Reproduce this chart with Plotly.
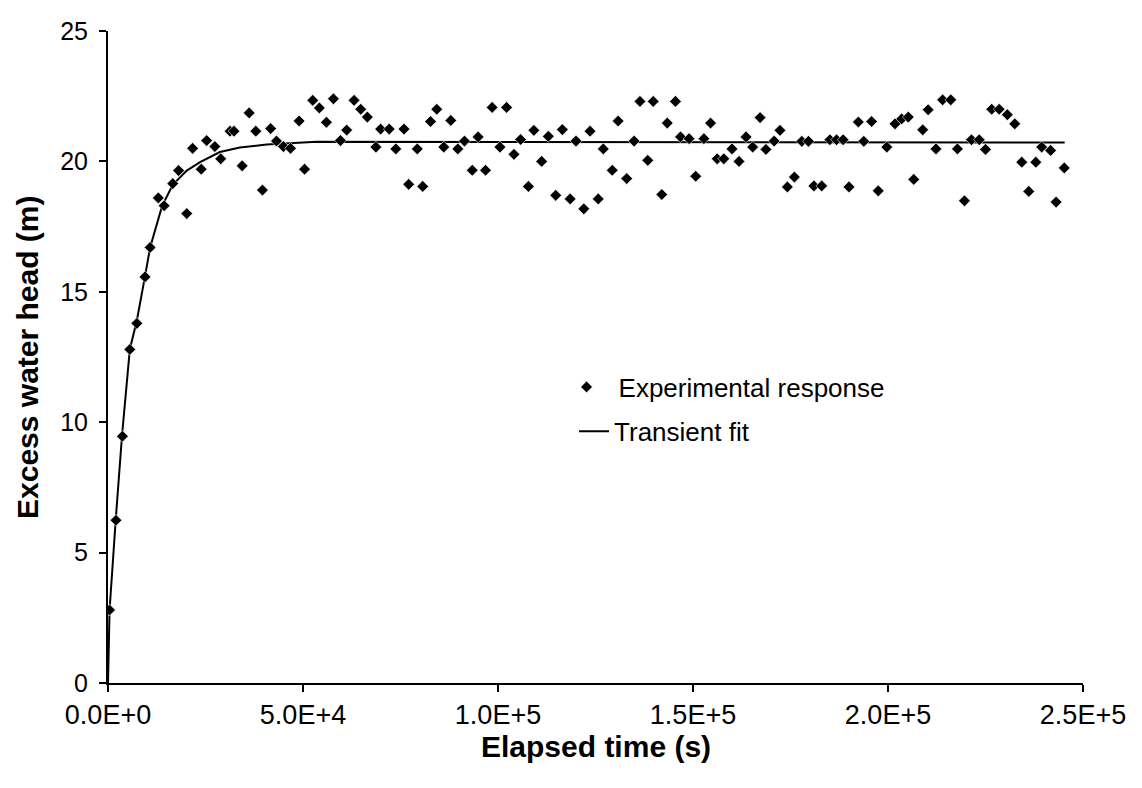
import plotly.graph_objects as go

# Experimental response (elapsed time in s, excess water head in m)
exp_time = [400, 2050, 3700, 5600, 7400, 9500, 10800, 12900, 14400, 16600, 18100, 20200,
            21700, 23900, 25300, 27400, 28900, 31300, 32300, 34400, 36200, 37900, 39600,
            41700, 43200, 45000, 46800, 49000, 50400, 52500, 54200, 56000, 57800, 59600,
            61200, 63100, 64800, 66500, 68700, 69900, 72100, 73800, 75900, 77100, 79300,
            80700, 82700, 84300, 86100, 87900, 89700, 91400, 93400, 94900, 96800, 98500,
            100500, 102200, 104100, 105800, 107800, 109200, 111200, 112900, 114800, 116500,
            118500, 120000, 122000, 123600, 125700, 127000, 129300, 130800, 133000, 134900,
            136400, 138400, 139800, 142000, 143400, 145500, 146800, 149000, 150700, 152800,
            154500, 156200, 157900, 160000, 161800, 163600, 165300, 167200, 168700, 170800,
            172300, 174200, 176000, 177900, 179600, 181000, 183000, 185100, 186800, 188500,
            190000, 192400, 193800, 195800, 197500, 199700, 201800, 203500, 205200, 206600,
            208900, 210300, 212300, 214000, 216100, 217800, 219600, 221400, 223400, 225000,
            226600, 228500, 230600, 232500, 234300, 236100, 237900, 239400, 241700, 243100,
            245200]
exp_head = [2.8, 6.24, 9.46, 12.79, 13.79, 15.57, 16.7, 18.6, 18.3, 19.15, 19.65, 18.0,
            20.5, 19.7, 20.8, 20.57, 20.1, 21.16, 21.16, 19.83, 21.86, 21.16, 18.9,
            21.26, 20.78, 20.57, 20.5, 21.55, 19.7, 22.34, 22.05, 21.5, 22.4, 20.8,
            21.2, 22.34, 22.0, 21.7, 20.55, 21.24, 21.24, 20.48, 21.24, 19.12, 20.48,
            19.04, 21.53, 22.0, 20.55, 21.57, 20.48, 20.78, 19.66, 20.94, 19.66, 22.07,
            20.55, 22.07, 20.27, 20.84, 19.04, 21.19, 20.0, 20.96, 18.7, 21.22,
            18.56, 20.78, 18.18, 21.16, 18.56, 20.48, 19.66, 21.55, 19.34, 20.78,
            22.3, 20.04, 22.3, 18.73, 21.47, 22.3, 20.94, 20.87, 19.43, 20.87,
            21.47, 20.1, 20.1, 20.48, 20.0, 20.94, 20.55, 21.68, 20.46, 20.78,
            21.19, 19.02, 19.4, 20.77, 20.77, 19.06, 19.06, 20.83, 20.83, 20.83,
            19.02, 21.51, 20.77, 21.53, 18.87, 20.55, 21.44, 21.63, 21.7, 19.31,
            21.21, 21.98, 20.48, 22.36, 22.36, 20.48, 18.49, 20.83, 20.83, 20.46,
            22.0, 22.0, 21.79, 21.44, 19.97, 18.85, 19.97, 20.55, 20.42, 18.44,
            19.75]

# Transient fit curve
fit_time = [0, 400, 2000, 3600, 5600, 7400, 9500, 10800, 13900, 16600, 20200, 23600,
            28700, 33800, 40700, 47000, 53500, 245300]
fit_head = [0, 2.8, 6.3, 9.5, 12.8, 13.9, 15.6, 16.7, 18.3, 19.1, 19.65, 19.97,
            20.36, 20.53, 20.65, 20.7, 20.75, 20.72]

x_tick_vals = [0, 50000, 100000, 150000, 200000, 250000]
x_tick_text = ["0.0E+0", "5.0E+4", "1.0E+5", "1.5E+5", "2.0E+5", "2.5E+5"]
y_tick_vals = [0, 5, 10, 15, 20, 25]
y_tick_text = ["0", "5", "10", "15", "20", "25"]

FONT = "Liberation Sans, Arial, sans-serif"

fig = go.Figure()
fig.add_trace(go.Scatter(
    x=fit_time, y=fit_head, mode="lines", name="Transient fit",
    line=dict(color="black", width=2), legend="legend2", showlegend=True))
fig.add_trace(go.Scatter(
    x=exp_time, y=exp_head, mode="markers", name="Experimental response",
    marker=dict(symbol="diamond", size=9, color="black",
                line=dict(color="white", width=0.6)),
    legend="legend", showlegend=True))

fig.update_layout(
    width=1142, height=788,
    margin=dict(l=108, r=59, t=31, b=105),
    paper_bgcolor="white", plot_bgcolor="white",
    showlegend=True,
    font=dict(family=FONT, color="black", size=22),
    legend=dict(x=0.458, y=0.49, xanchor="left", yanchor="top", itemwidth=54,
                bgcolor="rgba(0,0,0,0)", font=dict(size=26, family=FONT)),
    legend2=dict(x=0.478, y=0.422, xanchor="left", yanchor="top",
                 bgcolor="rgba(0,0,0,0)", font=dict(size=26, family=FONT)),
    xaxis=dict(range=[0, 250000], tickmode="array", tickvals=x_tick_vals,
               ticktext=x_tick_text, automargin=False,
               showgrid=False, zeroline=False, showline=True, linecolor="black",
               linewidth=2, ticks="outside", ticklen=7, tickwidth=1.5,
               tickcolor="black", tickfont=dict(size=27, family=FONT, color="black")),
    yaxis=dict(range=[0, 25], tickmode="array", tickvals=y_tick_vals,
               ticktext=y_tick_text, automargin=False,
               showgrid=False, zeroline=False, showline=True, linecolor="black",
               linewidth=2, ticks="outside", ticklen=7, tickwidth=1.5,
               tickcolor="black", tickfont=dict(size=25, family=FONT, color="black"),
               ticklabelstandoff=6),
    annotations=[
        dict(text="<b>Elapsed time (s)</b>", xref="paper", yref="paper",
             x=0.5, y=-0.097, xanchor="center", yanchor="middle", showarrow=False,
             font=dict(size=30, family=FONT)),
        dict(text="<b>Excess water head (m)</b>", xref="paper", yref="paper",
             x=-0.0831, y=0.5, xanchor="center", yanchor="middle", showarrow=False,
             textangle=-90, font=dict(size=30, family=FONT)),
    ],
)

fig.write_html("out.html")
